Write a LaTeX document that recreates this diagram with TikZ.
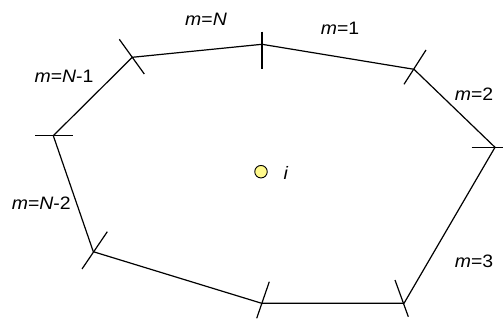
\documentclass[tikz,border=0pt]{standalone}
\usepackage{fontspec}
\setmainfont{Liberation Sans}[FakeStretch=1.08]
\begin{document}
\begin{tikzpicture}[x=1pt,y=-1pt,
  edge/.style={line width=1.2pt,line join=miter},
  tick/.style={line width=1.2pt},
  lbl/.style={inner sep=0pt,font=\fontsize{18}{21}\selectfont},
  site/.style={circle,draw,line width=0.9pt,fill=yellow!45,minimum size=12.5pt,inner sep=0pt}]
\useasboundingbox (0,0) rectangle (503,320);
% vertices
\coordinate (v1) at (262,44.3);
\coordinate (v2) at (414,69.3);
\coordinate (v3) at (495,147.3);
\coordinate (v4) at (404,303.3);
\coordinate (v5) at (261.7,303.3);
\coordinate (v6) at (93.3,251.7);
\coordinate (v7) at (53.3,135.7);
\coordinate (v8) at (132.3,57.3);
\draw[edge] (v1) -- (v2) -- (v3) -- (v4) -- (v5) -- (v6) -- (v7) -- (v8) -- cycle;
% tick ends
\coordinate (t1a) at (262,31.7);   \coordinate (t1b) at (262,69.3);
\coordinate (t2a) at (426,50);     \coordinate (t2b) at (404,84.3);
\coordinate (t3a) at (471.7,147.3);\coordinate (t3b) at (503,147.3);
\coordinate (t4a) at (395,280);    \coordinate (t4b) at (408.3,316.7);
\coordinate (t5a) at (269.3,281.7);\coordinate (t5b) at (256.7,318.3);
\coordinate (t6a) at (107.3,231.7);\coordinate (t6b) at (82,269);
\coordinate (t7a) at (35,135.7);   \coordinate (t7b) at (73.3,135.7);
\coordinate (t8a) at (119.3,39.3); \coordinate (t8b) at (144.3,74);
\foreach \k in {1,...,8} {\draw[tick] (t\k a) -- (t\k b);}
% labels
\node[lbl] (lN)  at (206,19.5) {\textit{m}=\textit{N}};
\node[lbl] (l1)  at (340,28)   {\textit{m}=1};
\node[lbl] (l2)  at (474,94)   {\textit{m}=2};
\node[lbl] (lN1) at (64,76)    {\textit{m}=\textit{N}-1};
\node[lbl] (lN2) at (41.3,203.5) {\textit{m}=\textit{N}-2};
\node[lbl] (l3)  at (474,261.5){\textit{m}=3};
\node[site] (i) at (261,171.7) {};
\node[lbl] (li) at (286,173) {\textit{i}};
\end{tikzpicture}
\end{document}
